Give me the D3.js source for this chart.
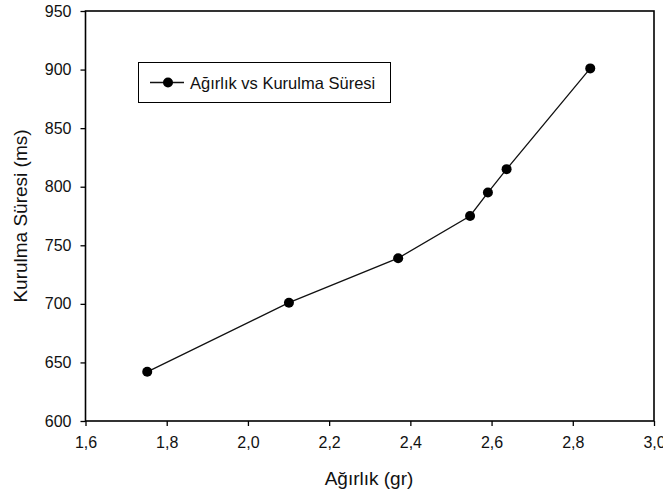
<!DOCTYPE html>
<html><head><meta charset="utf-8">
<script src="https://cdn.jsdelivr.net/npm/d3@7"></script>
<style>body{margin:0;background:#fff}svg{display:block}text{font-family:"Liberation Sans",Arial,sans-serif}</style>
</head><body>
<script>
const weights = [1.752, 2.101, 2.370, 2.547, 2.591, 2.637, 2.843];
const times = [642, 701, 739, 775, 795, 815, 901];
const xTicks = [1.6, 1.8, 2.0, 2.2, 2.4, 2.6, 2.8, 3.0];
const yTicks = [600, 650, 700, 750, 800, 850, 900, 950];
const seriesName = "Ağırlık vs Kurulma Süresi";
const xTitle = "Ağırlık (gr)";
const yTitle = "Kurulma Süresi (ms)";

const W = 663, H = 497;
const m = {l: 85.5, r: 9, t: 11, b: 76};
const svg = d3.select("body").append("svg").attr("width", W).attr("height", H);
const x = d3.scaleLinear().domain([1.6, 3.0]).range([m.l, W - m.r]);
const y = d3.scaleLinear().domain([600, 950]).range([H - m.b, m.t]);
const fmt = d => d3.format(".1f")(d).replace(".", ",");

const gx = svg.append("g").attr("transform", `translate(0,${H - m.b})`)
  .call(d3.axisBottom(x).tickValues(xTicks).tickFormat(fmt).tickSize(5).tickPadding(11));
const gy = svg.append("g").attr("transform", `translate(${m.l},0)`)
  .call(d3.axisLeft(y).tickValues(yTicks).tickFormat(d3.format("d")).tickSize(5).tickPadding(9));
[gx, gy].forEach(g => {
  g.select(".domain").remove();
  g.selectAll("line").attr("stroke", "#000").attr("stroke-width", 1.3);
  g.selectAll("text").attr("font-size", 16).attr("fill", "#111");
});
svg.append("rect").attr("x", m.l).attr("y", m.t)
  .attr("width", W - m.r - m.l).attr("height", H - m.b - m.t)
  .attr("fill", "none").attr("stroke", "#000").attr("stroke-width", 1.6);

const pts = weights.map((w, i) => [w, times[i]]);
svg.append("path").datum(pts)
  .attr("d", d3.line().x(d => x(d[0])).y(d => y(d[1])))
  .attr("fill", "none").attr("stroke", "#111").attr("stroke-width", 1.3);
svg.selectAll("circle.pt").data(pts).join("circle").attr("class", "pt")
  .attr("cx", d => x(d[0])).attr("cy", d => y(d[1])).attr("r", 5).attr("fill", "#000");

// legend
const lg = svg.append("g");
lg.append("rect").attr("x", 138.5).attr("y", 62.5).attr("width", 252).attr("height", 40)
  .attr("fill", "#fff").attr("stroke", "#000").attr("stroke-width", 1);
lg.append("line").attr("x1", 150).attr("x2", 184).attr("y1", 82.5).attr("y2", 82.5)
  .attr("stroke", "#111").attr("stroke-width", 1.3);
lg.append("circle").attr("cx", 168).attr("cy", 82.5).attr("r", 5).attr("fill", "#000");
lg.append("text").attr("x", 190).attr("y", 88.5).attr("font-size", 16.5).attr("fill", "#111").text(seriesName);

svg.append("text").attr("x", 369).attr("y", 485)
  .attr("text-anchor", "middle").attr("font-size", 19).attr("fill", "#111").text(xTitle);
svg.append("text").attr("transform", `translate(27,${(m.t + H - m.b) / 2}) rotate(-90)`)
  .attr("text-anchor", "middle").attr("font-size", 19).attr("fill", "#111").text(yTitle);
</script>
</body></html>
